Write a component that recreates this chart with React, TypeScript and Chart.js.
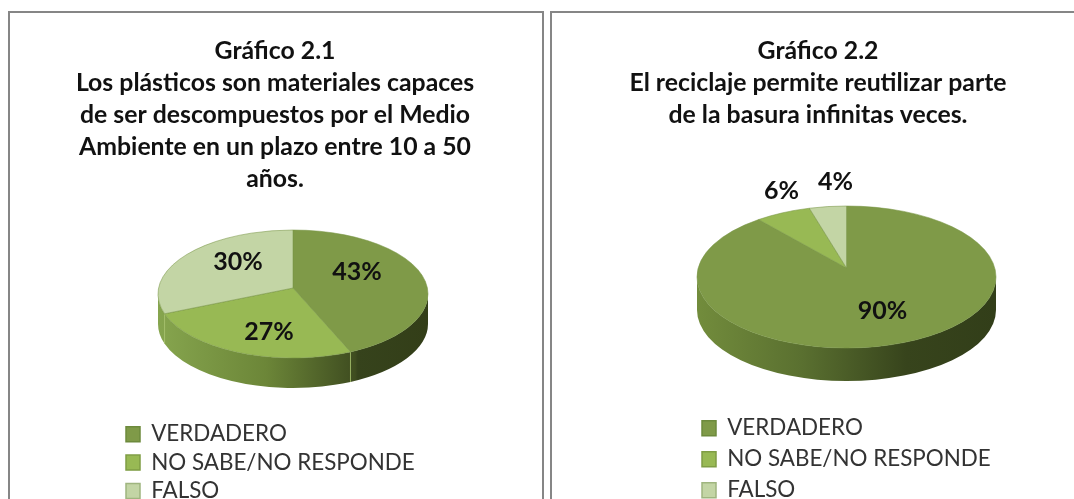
import React, { useEffect, useRef } from "react";
import { Chart, registerables } from "chart.js";

Chart.register(...registerables);

const categories = ["VERDADERO", "NO SABE/NO RESPONDE", "FALSO"];
const values1 = [43, 27, 30];
const values2 = [90, 6, 4];
const title1 = [
  "Gráfico 2.1",
  "Los plásticos son materiales capaces",
  "de ser descompuestos por el Medio",
  "Ambiente en un plazo entre 10 a 50",
  "años.",
];
const title2 = [
  "Gráfico 2.2",
  "El reciclaje permite reutilizar parte",
  "de la basura infinitas veces.",
];
const sliceColors = ["#7f9a48", "#98b954", "#c3d5a5"];
const sliceBorders = ["#6d8a3c", "#7f9d44", "#9fb57f"];

const H = 499;
const FONT = "Lato, Carlito, 'Open Sans', sans-serif";

type Cfg = {
  values: number[];
  title: string[];
  canvasLeft: number;
  canvasWidth: number;
  cx: number;
  cy: number;
  rx: number;
  ry: number;
  depth: number;
  apexLift: number;
  gradient: [number, string][];
  labelOffsets: [number, number][];
  legendX: number;
  legendY: number;
  legendFont: number;
  legendPad: number;
};

const cfg1: Cfg = {
  values: values1,
  title: title1,
  canvasLeft: 8,
  canvasWidth: 534,
  cx: 293,
  cy: 294,
  rx: 135,
  ry: 64,
  depth: 30,
  apexLift: 6,
  gradient: [
    [0, "#86a54e"],
    [0.4, "#6c8638"],
    [0.73, "#3f4d20"],
    [0.74, "#36431c"],
    [1, "#333e18"],
  ],
  labelOffsets: [
    [64, -22],
    [-24, 38],
    [-55, -32],
  ],
  legendX: 118,
  legendY: 423,
  legendFont: 22.4,
  legendPad: 6,
};

const cfg2: Cfg = {
  values: values2,
  title: title2,
  canvasLeft: 550,
  canvasWidth: 536,
  cx: 846.5,
  cy: 277,
  rx: 149.5,
  ry: 71,
  depth: 33,
  apexLift: 9,
  gradient: [
    [0, "#728c3c"],
    [0.35, "#5a7030"],
    [0.7, "#37441c"],
    [1, "#323e19"],
  ],
  labelOffsets: [
    [36, 34],
    [-65, -86],
    [-11, -95],
  ],
  legendX: 152,
  legendY: 417,
  legendFont: 22.4,
  legendPad: 8.6,
};

function makePlugin(c: Cfg) {
  return {
    id: "tiltedPie",
    afterLayout(chart: any) {
      const tb = chart.titleBlock;
      tb.left = 0;
      tb.right = c.canvasWidth;
      tb.width = c.canvasWidth;
      const lg = chart.legend;
      const dx = c.legendX - lg.legendHitBoxes[0].left;
      const dy = c.legendY - lg.legendHitBoxes[0].top;
      lg.legendHitBoxes.forEach((h: any) => {
        h.left += dx;
        h.top += dy;
      });
      lg.left = c.legendX - lg.options.labels.padding;
      lg.top = c.legendY - lg.options.labels.padding;
      lg.right = c.canvasWidth;
      lg.bottom = H + 60;
      lg.width = lg.right - lg.left;
      lg.height = lg.bottom - lg.top;
    },
    beforeDatasetDraw(chart: any, args: any) {
      const ctx = chart.ctx as CanvasRenderingContext2D;
      const arcs = args.meta.data as any[];
      const x = arcs[0].x;
      const y = arcs[0].y;
      const rx = arcs[0].outerRadius;
      const ry = rx * (c.ry / c.rx);
      const ds = chart.data.datasets[args.index];
      ctx.save();
      const g = ctx.createLinearGradient(x - rx, 0, x + rx, 0);
      c.gradient.forEach(([s, col]) => g.addColorStop(s, col));
      arcs.forEach((arc) => {
        const a = Math.max(arc.startAngle, 0);
        const b = Math.min(arc.endAngle, Math.PI);
        if (a >= b) return;
        ctx.beginPath();
        ctx.ellipse(x, y, rx, ry, 0, a, b);
        ctx.ellipse(x, y + c.depth, rx, ry, 0, b, a, true);
        ctx.closePath();
        ctx.fillStyle = g;
        ctx.fill();
      });
      arcs.forEach((arc) => {
        if (arc.endAngle > 0 && arc.endAngle < Math.PI) {
          const px = x + rx * Math.cos(arc.endAngle);
          const py = y + ry * Math.sin(arc.endAngle);
          ctx.beginPath();
          ctx.moveTo(px, py);
          ctx.lineTo(px, py + c.depth);
          ctx.strokeStyle = "rgba(160,190,100,0.8)";
          ctx.lineWidth = 1;
          ctx.stroke();
        }
      });
      arcs.forEach((arc, i) => {
        ctx.beginPath();
        ctx.moveTo(x, y - c.apexLift);
        ctx.ellipse(x, y, rx, ry, 0, arc.startAngle, arc.endAngle);
        ctx.closePath();
        ctx.fillStyle = ds.backgroundColor[i];
        ctx.fill();
        ctx.strokeStyle = "rgba(120,150,70,0.55)";
        ctx.lineWidth = 1;
        ctx.stroke();
      });
      ctx.fillStyle = "#111";
      ctx.font = `bold 25px ${FONT}`;
      ctx.textAlign = "center";
      ctx.textBaseline = "middle";
      ds.data.forEach((v: number, i: number) => {
        const [ox, oy] = c.labelOffsets[i];
        ctx.fillText(`${v}%`, x + ox, y + oy);
      });
      ctx.restore();
      return false;
    },
  };
}

function PieCard({ c }: { c: Cfg }) {
  const ref = useRef<HTMLCanvasElement>(null);
  useEffect(() => {
    const titleHeight = 35 + 32 * c.title.length;
    const chart = new Chart(ref.current as HTMLCanvasElement, {
      type: "pie",
      data: {
        labels: categories,
        datasets: [
          {
            data: c.values,
            backgroundColor: sliceColors,
            borderColor: sliceBorders,
            borderWidth: 1.5,
          },
        ],
      },
      plugins: [makePlugin(c)],
      options: {
        animation: false,
        responsive: false,
        maintainAspectRatio: false,
        radius: c.rx,
        layout: {
          padding: {
            top: 0,
            left: 2 * (c.cx - c.canvasLeft) - c.canvasWidth,
            right: 0,
            bottom: H + titleHeight - 2 * c.cy,
          },
        },
        plugins: {
          tooltip: { enabled: false },
          title: {
            display: true,
            text: c.title,
            color: "#111",
            align: "center",
            padding: { top: 35, bottom: 0 },
            font: { family: FONT, size: 24.8, weight: "bold", lineHeight: 32 / 24.8 },
          },
          legend: {
            display: true,
            position: "chartArea",
            align: "start",
            labels: {
              boxWidth: 14,
              boxHeight: 15,
              padding: c.legendPad,
              color: "#333",
              font: { family: FONT, size: c.legendFont, lineHeight: 1 },
            },
          },
        },
      } as any,
    });
    return () => chart.destroy();
  }, [c]);
  return (
    <canvas
      ref={ref}
      width={c.canvasWidth}
      height={H}
      style={{
        position: "absolute",
        left: c.canvasLeft,
        top: 0,
        width: c.canvasWidth,
        height: H,
        display: "block",
        filter: "blur(0.5px)",
      }}
    />
  );
}

export default function App() {
  const border = "2px solid #868686";
  return (
    <div
      style={{
        position: "fixed",
        left: 0,
        top: 0,
        width: 1074,
        height: 499,
        overflow: "hidden",
        background: "#fff",
      }}
    >
      <div
        style={{
          position: "absolute",
          left: 8,
          top: 11,
          width: 532,
          height: 520,
          borderTop: border,
          borderLeft: border,
          borderRight: border,
        }}
      />
      <div
        style={{
          position: "absolute",
          left: 550,
          top: 11,
          width: 600,
          height: 520,
          borderTop: border,
          borderLeft: border,
        }}
      />
      <PieCard c={cfg1} />
      <PieCard c={cfg2} />
    </div>
  );
}
